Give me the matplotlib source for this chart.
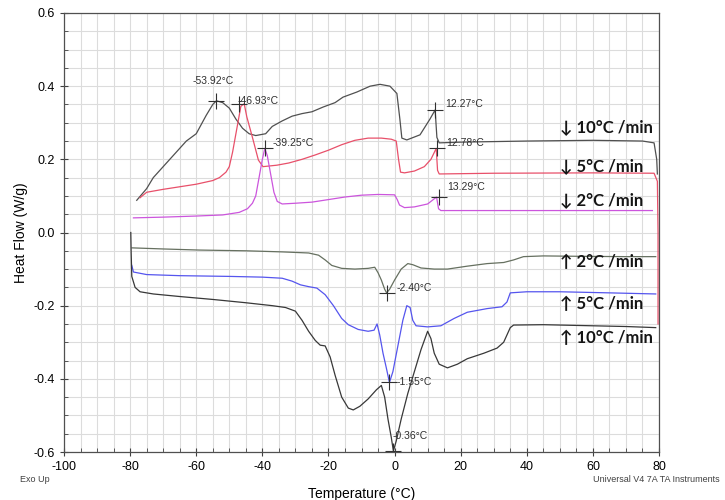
import numpy as np
import matplotlib
matplotlib.use('Agg')
import matplotlib.pyplot as plt
from matplotlib.ticker import MultipleLocator

# cooling curves
cool10_T = [-78, -75, -73, -70, -67, -63, -60, -57, -55, -53.9, -52, -50, -48, -46, -44, -42, -39, -37,
            -34, -31, -28, -25, -21.6, -18, -15.6, -11.4, -7.4, -4.4, -1.4, 0.7, 1.6, 2.2, 3.7, 7.7,
            10.7, 12.27, 12.8, 13.5, 20, 40, 60, 75, 78.5, 79.3, 79.5]
cool10_HF = [0.088, 0.12, 0.15, 0.18, 0.21, 0.25, 0.27, 0.32, 0.35, 0.36, 0.355, 0.34, 0.31, 0.285, 0.27,
             0.265, 0.27, 0.29, 0.305, 0.318, 0.325, 0.33, 0.343, 0.355, 0.37, 0.384, 0.40, 0.405, 0.40,
             0.38, 0.31, 0.258, 0.253, 0.267, 0.31, 0.335, 0.26, 0.245, 0.247, 0.25, 0.252, 0.25, 0.245,
             0.2, 0.16]

cool5_T = [-77, -75, -70, -65, -60, -55, -53, -51, -50, -49, -48, -47, -46.5, -45.5, -44.7, -43, -41.2,
           -39.8, -35.6, -32, -28, -24, -20, -16, -12, -8, -4, -1, 0.5, 1.2, 1.8, 3, 6, 9, 11, 12.6,
           13, 13.5, 30, 60, 78.5, 79.5, 79.7, 79.7]
cool5_HF = [0.095, 0.11, 0.118, 0.125, 0.132, 0.142, 0.15, 0.165, 0.18, 0.22, 0.27, 0.32, 0.345, 0.352,
            0.316, 0.26, 0.198, 0.18, 0.184, 0.19, 0.2, 0.212, 0.225, 0.24, 0.252, 0.258, 0.258, 0.255,
            0.25, 0.2, 0.165, 0.163, 0.168, 0.18, 0.2, 0.23, 0.17, 0.16, 0.162, 0.163, 0.162, 0.14, 0.0,
            -0.25]

cool2_T = [-79, -70, -60, -52, -47, -44.5, -43, -42, -41, -40, -39.25, -38.5, -37.5, -36.5, -35.5, -34,
           -30, -25, -20, -15, -10, -5, 0, 0.8, 1.5, 3, 6, 10, 12.7, 13.3, 14, 40, 70, 78]
cool2_HF = [0.04, 0.042, 0.045, 0.048, 0.055, 0.065, 0.08, 0.1, 0.15, 0.2, 0.23, 0.21, 0.16, 0.11, 0.085,
            0.078, 0.08, 0.083, 0.09, 0.097, 0.102, 0.104, 0.103, 0.09, 0.075, 0.068, 0.07, 0.078, 0.097,
            0.065, 0.06, 0.06, 0.06, 0.06]

# heating curves
heat2_T = [-79.4, -70, -59, -45, -34, -26, -23, -21, -19, -16, -12, -8, -6, -5, -4, -3, -2.4, -1.5, 0,
           2, 4, 5.5, 8, 12, 16, 22, 28, 33, 36, 39, 45, 55, 70, 79]
heat2_HF = [-0.042, -0.045, -0.048, -0.05, -0.053, -0.056, -0.062, -0.075, -0.09, -0.098, -0.1, -0.098,
            -0.095, -0.11, -0.13, -0.155, -0.165, -0.155, -0.13, -0.1, -0.085, -0.088, -0.097, -0.1,
            -0.1, -0.092, -0.085, -0.082, -0.075, -0.066, -0.064, -0.065, -0.066, -0.066]

heat5_T = [-79.5, -79, -75, -65, -50, -40, -34, -31, -28.5, -26, -23.5, -21, -18.5, -16, -14, -11, -8,
           -6.2, -5.3, -4.5, -3.5, -2.5, -1.55, -0.5, 1, 2.5, 3.7, 4.7, 5.5, 6.5, 10, 14, 18, 22, 28,
           32.5, 34, 35, 40, 50, 65, 79]
heat5_HF = [-0.09, -0.108, -0.115, -0.118, -0.12, -0.122, -0.125, -0.133, -0.143, -0.148, -0.152, -0.17,
            -0.2, -0.235, -0.252, -0.265, -0.27, -0.267, -0.25, -0.28, -0.33, -0.37, -0.41, -0.38,
            -0.31, -0.24, -0.2, -0.205, -0.24, -0.255, -0.258, -0.255, -0.235, -0.218, -0.208, -0.203,
            -0.19, -0.165, -0.162, -0.162, -0.165, -0.168]

heat10_T = [-79.8, -79.7, -79.5, -78.5, -77, -73, -65, -55, -45, -37, -33, -30, -28, -26, -24, -22.5,
            -21, -19.5, -18, -16, -14, -12.5, -10.5, -8, -5.5, -4, -3, -2, -1, -0.36, 0.5, 2, 4, 6, 8,
            10, 11, 12, 13.5, 16, 19, 22, 27, 31, 33, 35, 36, 45, 60, 70, 79]
heat10_HF = [0.0, -0.05, -0.12, -0.15, -0.162, -0.168, -0.175, -0.183, -0.192, -0.2, -0.205, -0.215,
             -0.24, -0.27, -0.295, -0.308, -0.31, -0.34, -0.39, -0.45, -0.48, -0.485, -0.475, -0.455,
             -0.43, -0.418, -0.45, -0.51, -0.56, -0.597, -0.57, -0.51, -0.44, -0.38, -0.32, -0.27,
             -0.29, -0.33, -0.36, -0.37, -0.36, -0.345, -0.33, -0.316, -0.3, -0.26, -0.253, -0.252,
             -0.255, -0.257, -0.26]

# peak markers
peak_T = [-53.92, -46.93, -39.25, 12.27, 12.78, 13.29, -2.40, -1.55, -0.36]
peak_HF = [0.36, 0.35, 0.23, 0.335, 0.23, 0.097, -0.165, -0.41, -0.597]
peak_lbl = ['-53.92°C', '-46.93°C', '-39.25°C', '12.27°C', '12.78°C', '13.29°C',
            '-2.40°C', '-1.55°C', '-0.36°C']

rate_lbl = ['↓ 10°C /min', '↓ 5°C /min', '↓ 2°C /min', '↑ 2°C /min', '↑ 5°C /min', '↑ 10°C /min']

plt.rcParams['font.family'] = ['Liberation Sans', 'DejaVu Sans']
plt.rcParams['axes.unicode_minus'] = False

fig = plt.figure(figsize=(7.25, 5), dpi=100)
ax = fig.add_axes([0.0883, 0.096, 0.8207, 0.878])

ax.plot(cool10_T, cool10_HF, color='#505050', lw=0.9)
ax.plot(cool5_T, cool5_HF, color='#e8506a', lw=0.9)
ax.plot(cool2_T, cool2_HF, color='#cc55dd', lw=0.9)
ax.plot(heat2_T, heat2_HF, color='#667060', lw=0.9)
ax.plot(heat5_T, heat5_HF, color='#5555ee', lw=0.9)
ax.plot(heat10_T, heat10_HF, color='#383838', lw=0.9)

ax.plot(peak_T, peak_HF, ls='none', marker='+', ms=11, mew=0.8, color='#303030')

# label positions (T, HF, ha)
lbl_pos = [(-54.9, 0.414, 'center'), (-47.4, 0.36, 'left'), (-36.8, 0.245, 'left'),
           (15.2, 0.351, 'left'), (15.6, 0.245, 'left'), (15.9, 0.124, 'left'),
           (0.7, -0.152, 'left'), (0.7, -0.41, 'left'), (-0.5, -0.556, 'left')]
for s, (x, y, ha) in zip(peak_lbl, lbl_pos):
    ax.text(x, y, s, fontsize=7.5, color='#303030', ha=ha, va='center')

rate_y = [0.289, 0.182, 0.089, -0.081, -0.195, -0.289]
for s, y in zip(rate_lbl, rate_y):
    ax.text(50, y, s, fontsize=12, fontweight='bold', color='#151515', ha='left', va='center',
            family=['Lato', 'DejaVu Sans'])

ax.set_xlim(-100, 80)
ax.set_ylim(-0.6, 0.6)
ax.xaxis.set_major_locator(MultipleLocator(20))
ax.xaxis.set_minor_locator(MultipleLocator(5))
ax.yaxis.set_major_locator(MultipleLocator(0.2))
ax.yaxis.set_minor_locator(MultipleLocator(0.05))
ax.yaxis.set_major_formatter(matplotlib.ticker.FormatStrFormatter('%.1f'))
ax.grid(which='both', color='#dcdcdc', lw=0.8)
ax.set_axisbelow(True)
ax.tick_params(which='major', direction='inout', length=6, labelsize=9, color='#404040')
ax.tick_params(which='minor', direction='in', length=3, color='#404040')
for sp in ax.spines.values():
    sp.set_color('#505050')
    sp.set_linewidth(0.9)

ax.set_xlabel('Temperature (°C)', fontsize=10, labelpad=10)
ax.set_ylabel('Heat Flow (W/g)', fontsize=10, labelpad=4)

fig.text(0.028, 0.04, 'Exo Up', fontsize=6.5, color='#404040', va='center')
fig.text(0.993, 0.04, 'Universal V4 7A TA Instruments', fontsize=6.5, color='#404040',
         va='center', ha='right')

fig.savefig('out.png', dpi=100)
